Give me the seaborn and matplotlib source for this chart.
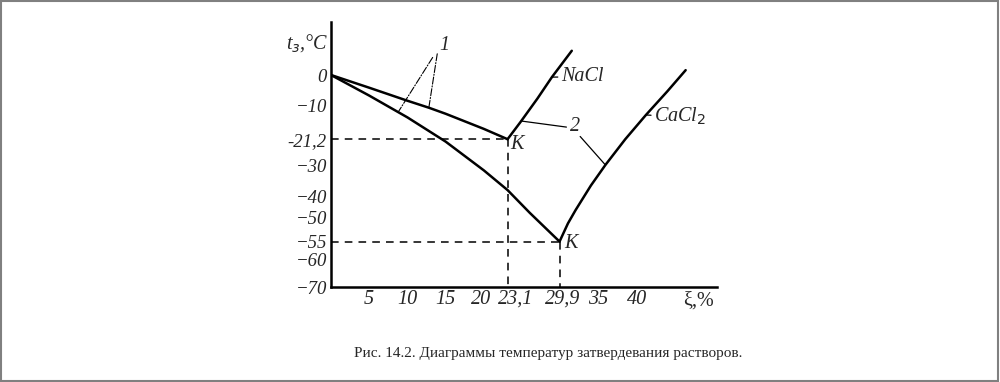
import matplotlib
matplotlib.use("Agg")
import matplotlib.pyplot as plt
import seaborn as sns
from matplotlib.patches import Rectangle
from matplotlib.transforms import ScaledTranslation

# кривые затвердевания (ξ, % ; t, °C)
upper_x = [0, 5, 10, 12.8, 15, 20, 23.1]
upper_t = [0, -4.2, -8.5, -10.8, -12.8, -17.8, -21.2]

lower_x = [0, 5, 10, 15, 20, 23.1, 26, 29.9]
lower_t = [0, -6.8, -14.0, -22.0, -31.5, -38.0, -45.5, -55.0]

nacl_x = [23.1, 24.8, 27, 28.9, 31.5]
nacl_t = [-21.2, -15.5, -7.8, -0.7, 8.0]

cacl_x = [29.9, 31, 32, 34, 35.9, 38.5, 41.2, 44, 46.4]
cacl_t = [-55.0, -49.0, -44.6, -36.5, -29.7, -21.2, -13.2, -5.4, 1.6]

# эвтектические точки K
k_nacl = (23.1, -21.2)
k_cacl = (29.9, -55.0)

xticks = [5, 10, 15, 20, 23.1, 29.9, 35, 40]
xlabels = ["5", "10", "15", "20", "23,1", "29,9", "35", "40"]
yticks = [0, -10, -21.2, -30, -40, -50, -55, -60, -70]
ylabels = ["0", "\u221210", "-21,2", "\u221230", "\u221240", "\u221250", "\u221255", "\u221260", "\u221270"]

sns.set_style("white")
plt.rcParams['font.family'] = ['Liberation Serif', 'DejaVu Serif']

fs = 14.5
fig = plt.figure(figsize=(10, 3.82), dpi=100)
ax = fig.add_axes([0.331, 1 - 287 / 382, 0.386, (287 - 22) / 382])

lw = 1.8
for xs, ts in [(upper_x, upper_t), (lower_x, lower_t), (nacl_x, nacl_t), (cacl_x, cacl_t)]:
    sns.lineplot(x=xs, y=ts, ax=ax, color="black", lw=lw)

# пунктир к точкам K
dash = (0, (5, 4))
for kx, kt in [k_nacl, k_cacl]:
    ax.plot([0, kx], [kt, kt], color="black", lw=1.1, ls=dash)
    ax.plot([kx, kx], [kt, -70], color="black", lw=1.1, ls=dash)

ax.set_xlim(0, 50.5)
ax.set_ylim(-70, 17.5)
ax.set_xticks(xticks)
ax.set_xticklabels(xlabels, fontstyle="italic", fontsize=fs)
ax.set_yticks(yticks)
ax.set_yticklabels(ylabels, fontstyle="italic", fontsize=13.5)
ax.tick_params(direction="in", length=3, width=1, color="black")
ax.tick_params(axis="x", pad=2)
ax.tick_params(axis="y", pad=3)

# сдвиг подписей 20, 23,1 и 29,9, как в оригинале
for lab, dx in zip(ax.get_xticklabels()[3:6], [-3, 8, 3]):
    lab.set_transform(lab.get_transform() + ScaledTranslation(dx / 100, 0, fig.dpi_scale_trans))
# -50 чуть выше, -60 чуть ниже, чтобы не слипались с -55
ylabs = ax.get_yticklabels()
for lab, dy in [(ylabs[5], 9), (ylabs[7], -3)]:
    lab.set_transform(lab.get_transform() + ScaledTranslation(0, dy / 100, fig.dpi_scale_trans))

sns.despine(ax=ax)
for s in ["left", "bottom"]:
    ax.spines[s].set_linewidth(1.8)
    ax.spines[s].set_color("black")

# подписи
ax.text(k_nacl[0] + 0.4, k_nacl[1] - 1.6, "K", fontstyle="italic", fontsize=fs, va="center")
ax.text(k_cacl[0] + 0.6, k_cacl[1] - 0.8, "K", fontstyle="italic", fontsize=fs, va="center")

leader = dict(arrowstyle="-", lw=0.9, color="black", shrinkA=0, shrinkB=0)
ax.annotate("NaCl", xy=(28.9, -0.7), xytext=(30.1, -0.6), fontstyle="italic", fontsize=fs,
            va="center", arrowprops=leader)
ax.annotate("CaCl$_2$", xy=(41.2, -13.2), xytext=(42.3, -13.8), fontstyle="italic", fontsize=fs,
            va="center", arrowprops=leader)

ax.text(31.9, -17.0, "2", fontstyle="italic", fontsize=fs, ha="center", va="center")
ax.annotate("", xy=(24.9, -15.2), xytext=(30.8, -17.2), arrowprops=leader)
ax.annotate("", xy=(35.9, -29.7), xytext=(32.6, -20.3), arrowprops=leader)

leader1 = dict(arrowstyle="-", lw=0.8, ls="-.", color="black", shrinkA=0, shrinkB=0)
ax.text(14.8, 9.8, "1", fontstyle="italic", fontsize=fs, ha="center", va="center")
ax.annotate("", xy=(12.8, -10.8), xytext=(13.9, 7.0), arrowprops=leader1)
ax.annotate("", xy=(8.8, -12.2), xytext=(13.3, 5.8), arrowprops=leader1)

fig.text(0.307, 1 - 43 / 382, "t$_з$,\u00b0C", fontstyle="italic", fontsize=fs, ha="center", va="center")
fig.text(0.698, 1 - 301 / 382, "\u03be,%", fontsize=fs, ha="center", va="center")

fig.text(0.548, 1 - 354 / 382, "Рис. 14.2. Диаграммы температур затвердевания растворов.",
         fontsize=11, ha="center", va="center")

fig.patches.append(Rectangle((0.001, 0.002), 0.997, 0.995, transform=fig.transFigure,
                             fill=False, edgecolor="#808080", lw=1.5))

fig.savefig("out.png", dpi=100)
